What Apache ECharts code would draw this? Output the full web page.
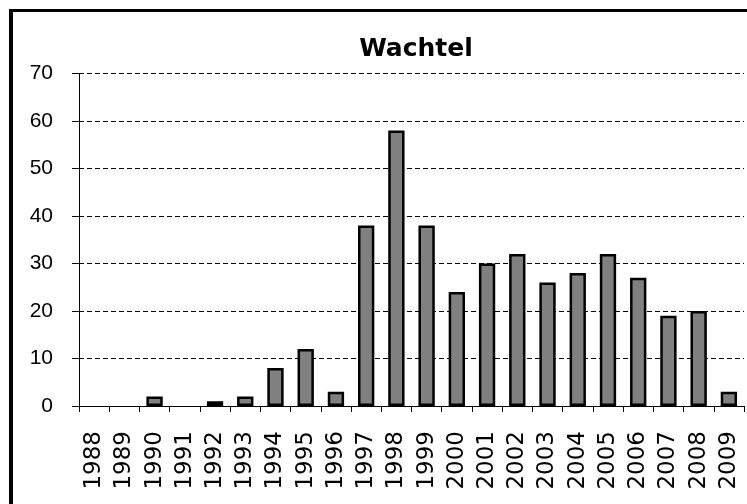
<!DOCTYPE html>
<html><head><meta charset="utf-8">
<script src="https://cdn.jsdelivr.net/npm/echarts@6/dist/echarts.min.js"></script>
<style>html,body{margin:0;padding:0;background:#fff}#c{width:747px;height:504px}</style>
</head><body><div id="c"></div>
<script>
const title = "Wachtel";
const years = ["1988","1989","1990","1991","1992","1993","1994","1995","1996","1997","1998","1999","2000","2001","2002","2003","2004","2005","2006","2007","2008","2009"];
const counts = [0,0,2,0,1,2,8,12,3,38,58,38,24,30,32,26,28,32,27,19,20,3];
const yTicks = [0,10,20,30,40,50,60,70];

const chart = echarts.init(document.getElementById('c'), null, {renderer:'canvas'});
chart.setOption({
  animation:false,
  backgroundColor:'#fff',
  graphic:[
    {type:'rect',shape:{x:10.5,y:10.5,width:780,height:540},style:{fill:'none',stroke:'#000',lineWidth:3},silent:true,z:100},
    {type:'line',shape:{x1:12.5,y1:12,x2:12.5,y2:510},style:{stroke:'#000',lineWidth:1},silent:true,z:100}
  ],
  title:{text:title,left:411,top:32,textAlign:'center',textStyle:{fontFamily:'DejaVu Sans',fontSize:25,fontWeight:'bold',color:'#000'}},
  grid:{left:79,right:3,top:73.5,bottom:98,containLabel:false},
  xAxis:{type:'category',data:years,
    axisLine:{lineStyle:{color:'#000',width:1}},
    axisTick:{show:true,length:6,lineStyle:{color:'#000'}},
    axisLabel:{rotate:90,interval:0,fontFamily:'DejaVu Sans',fontSize:23,color:'#000',margin:25}},
  yAxis:{type:'value',min:yTicks[0],max:yTicks[yTicks.length-1],interval:10,
    axisLine:{show:true,lineStyle:{color:'#000',width:1}},
    axisTick:{show:true,length:7,lineStyle:{color:'#000'}},
    axisLabel:{fontFamily:'Liberation Sans',fontSize:21,color:'#000',margin:26,padding:[8,0,0,0]},
    splitLine:{show:true,lineStyle:{color:'#000',type:[5,3],width:1}}},
  series:[{type:'bar',data:counts.map(v => v === 0 ? '-' : v),barWidth:'54%',
    itemStyle:{color:'#808080',borderColor:'#000',borderWidth:2.5}}]
});
</script></body></html>
